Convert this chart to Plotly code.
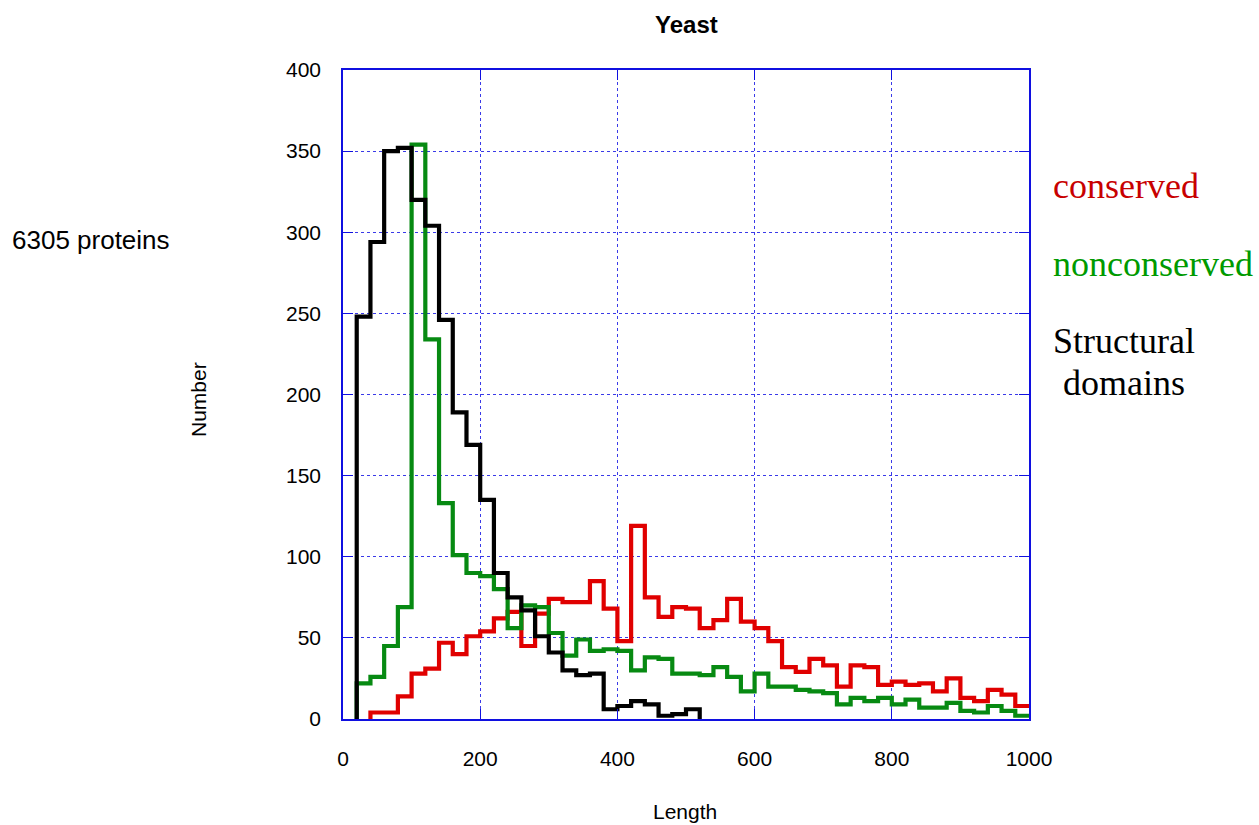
import plotly.graph_objects as go

# Histogram of protein / domain lengths, 20-residue bins
BIN_WIDTH = 20

structural_start = 20
structural_counts = [248, 294, 350, 352, 320, 304, 246, 189, 169, 135, 90, 75, 67,
                     51, 41, 30, 27, 28, 6, 8, 11, 9, 2, 3, 6]

nonconserved_start = 20
nonconserved_counts = [22, 26, 45, 69, 354, 234, 133, 101, 90, 88, 80, 56, 70, 69,
                       53, 39, 49, 42, 43, 42, 30, 38, 37, 28, 28, 27, 32, 26, 17,
                       28, 20, 20, 18, 17, 16, 9, 13, 11, 13, 9, 12, 7, 7, 10, 5,
                       4, 8, 5, 2]

conserved_start = 40
conserved_counts = [4, 4, 14, 28, 31, 47, 40, 51, 54, 62, 66, 45, 65, 74, 72, 72,
                    85, 68, 48, 119, 75, 63, 69, 68, 56, 61, 74, 60, 56, 48, 32,
                    29, 37, 33, 20, 33, 32, 21, 23, 21, 22, 17, 25, 13, 11, 18,
                    15, 8]

x_ticks = [0, 200, 400, 600, 800, 1000]
y_ticks = [0, 50, 100, 150, 200, 250, 300, 350, 400]

RED = "#e00000"
GREEN = "#078a12"
BLACK = "#000000"
BLUE = "#1010e0"
GRID_BLUE = "#3a3ae8"


def step_path(start, counts, drop_at_end):
    """Outline of a histogram: rise at the first edge, one level per bin."""
    edges = [start + BIN_WIDTH * i for i in range(len(counts) + 1)]
    xs = [edges[0]] + edges[:-1] + [edges[-1]]
    ys = [0] + list(counts) + [0 if drop_at_end else counts[-1]]
    return xs, ys


fig = go.Figure()
for start, counts, color, drop in [
    (conserved_start, conserved_counts, RED, False),
    (nonconserved_start, nonconserved_counts, GREEN, False),
    (structural_start, structural_counts, BLACK, True),
]:
    xs, ys = step_path(start, counts, drop)
    fig.add_trace(go.Scatter(x=xs, y=ys, mode="lines", line_shape="hv",
                             line=dict(color=color, width=4.2),
                             showlegend=False, hoverinfo="skip"))

W, H = 1259, 825
L, R, T, B = 343, 1029, 70, 719


def px(xp):
    return (xp - L) / (R - L)


def py(yp):
    return (B - yp) / (B - T)


axis_common = dict(
    showline=True, linecolor=BLUE, linewidth=1.5, mirror="ticks",
    ticks="inside", ticklen=10, tickwidth=1.2, tickcolor=BLUE,
    showgrid=True, gridcolor=GRID_BLUE, gridwidth=1, griddash="3px,3px",
    zeroline=False, tickfont=dict(family="Liberation Sans", size=21, color="#000"),
)

fig.update_xaxes(range=[0, 1000], tickvals=x_ticks, ticklabelstandoff=20,
                 **axis_common)
fig.update_yaxes(range=[0, 400], tickvals=y_ticks, ticklabelstandoff=16,
                 **axis_common)

sans = "Liberation Sans"
serif = "Liberation Serif"
annotations = [
    dict(text="<b>Yeast</b>", x=px(686), y=py(25), font=dict(family=sans, size=24)),
    dict(text="Length", x=px(685), y=py(811), font=dict(family=sans, size=21)),
    dict(text="Number", x=px(198), y=py(400), textangle=-90,
         font=dict(family=sans, size=21)),
    dict(text="6305 proteins", x=px(10), y=py(240), xanchor="left",
         font=dict(family=sans, size=26)),
    dict(text="conserved", x=px(1051), y=py(186), xanchor="left",
         font=dict(family=serif, size=36, color="#c80000")),
    dict(text="nonconserved", x=px(1051), y=py(264), xanchor="left",
         font=dict(family=serif, size=36, color="#009a00")),
    dict(text="Structural", x=px(1051), y=py(341), xanchor="left",
         font=dict(family=serif, size=36, color="#000")),
    dict(text="domains", x=px(1061), y=py(383), xanchor="left",
         font=dict(family=serif, size=36, color="#000")),
]
for a in annotations:
    a.setdefault("xanchor", "center")
    a.update(xref="paper", yref="paper", yanchor="middle", showarrow=False)
    a["font"].setdefault("color", "#000")

fig.update_layout(
    width=W, height=H,
    margin=dict(l=L, r=W - R, t=T, b=H - B),
    paper_bgcolor="white", plot_bgcolor="white",
    annotations=annotations,
    showlegend=False,
)

fig.write_html("out.html")
